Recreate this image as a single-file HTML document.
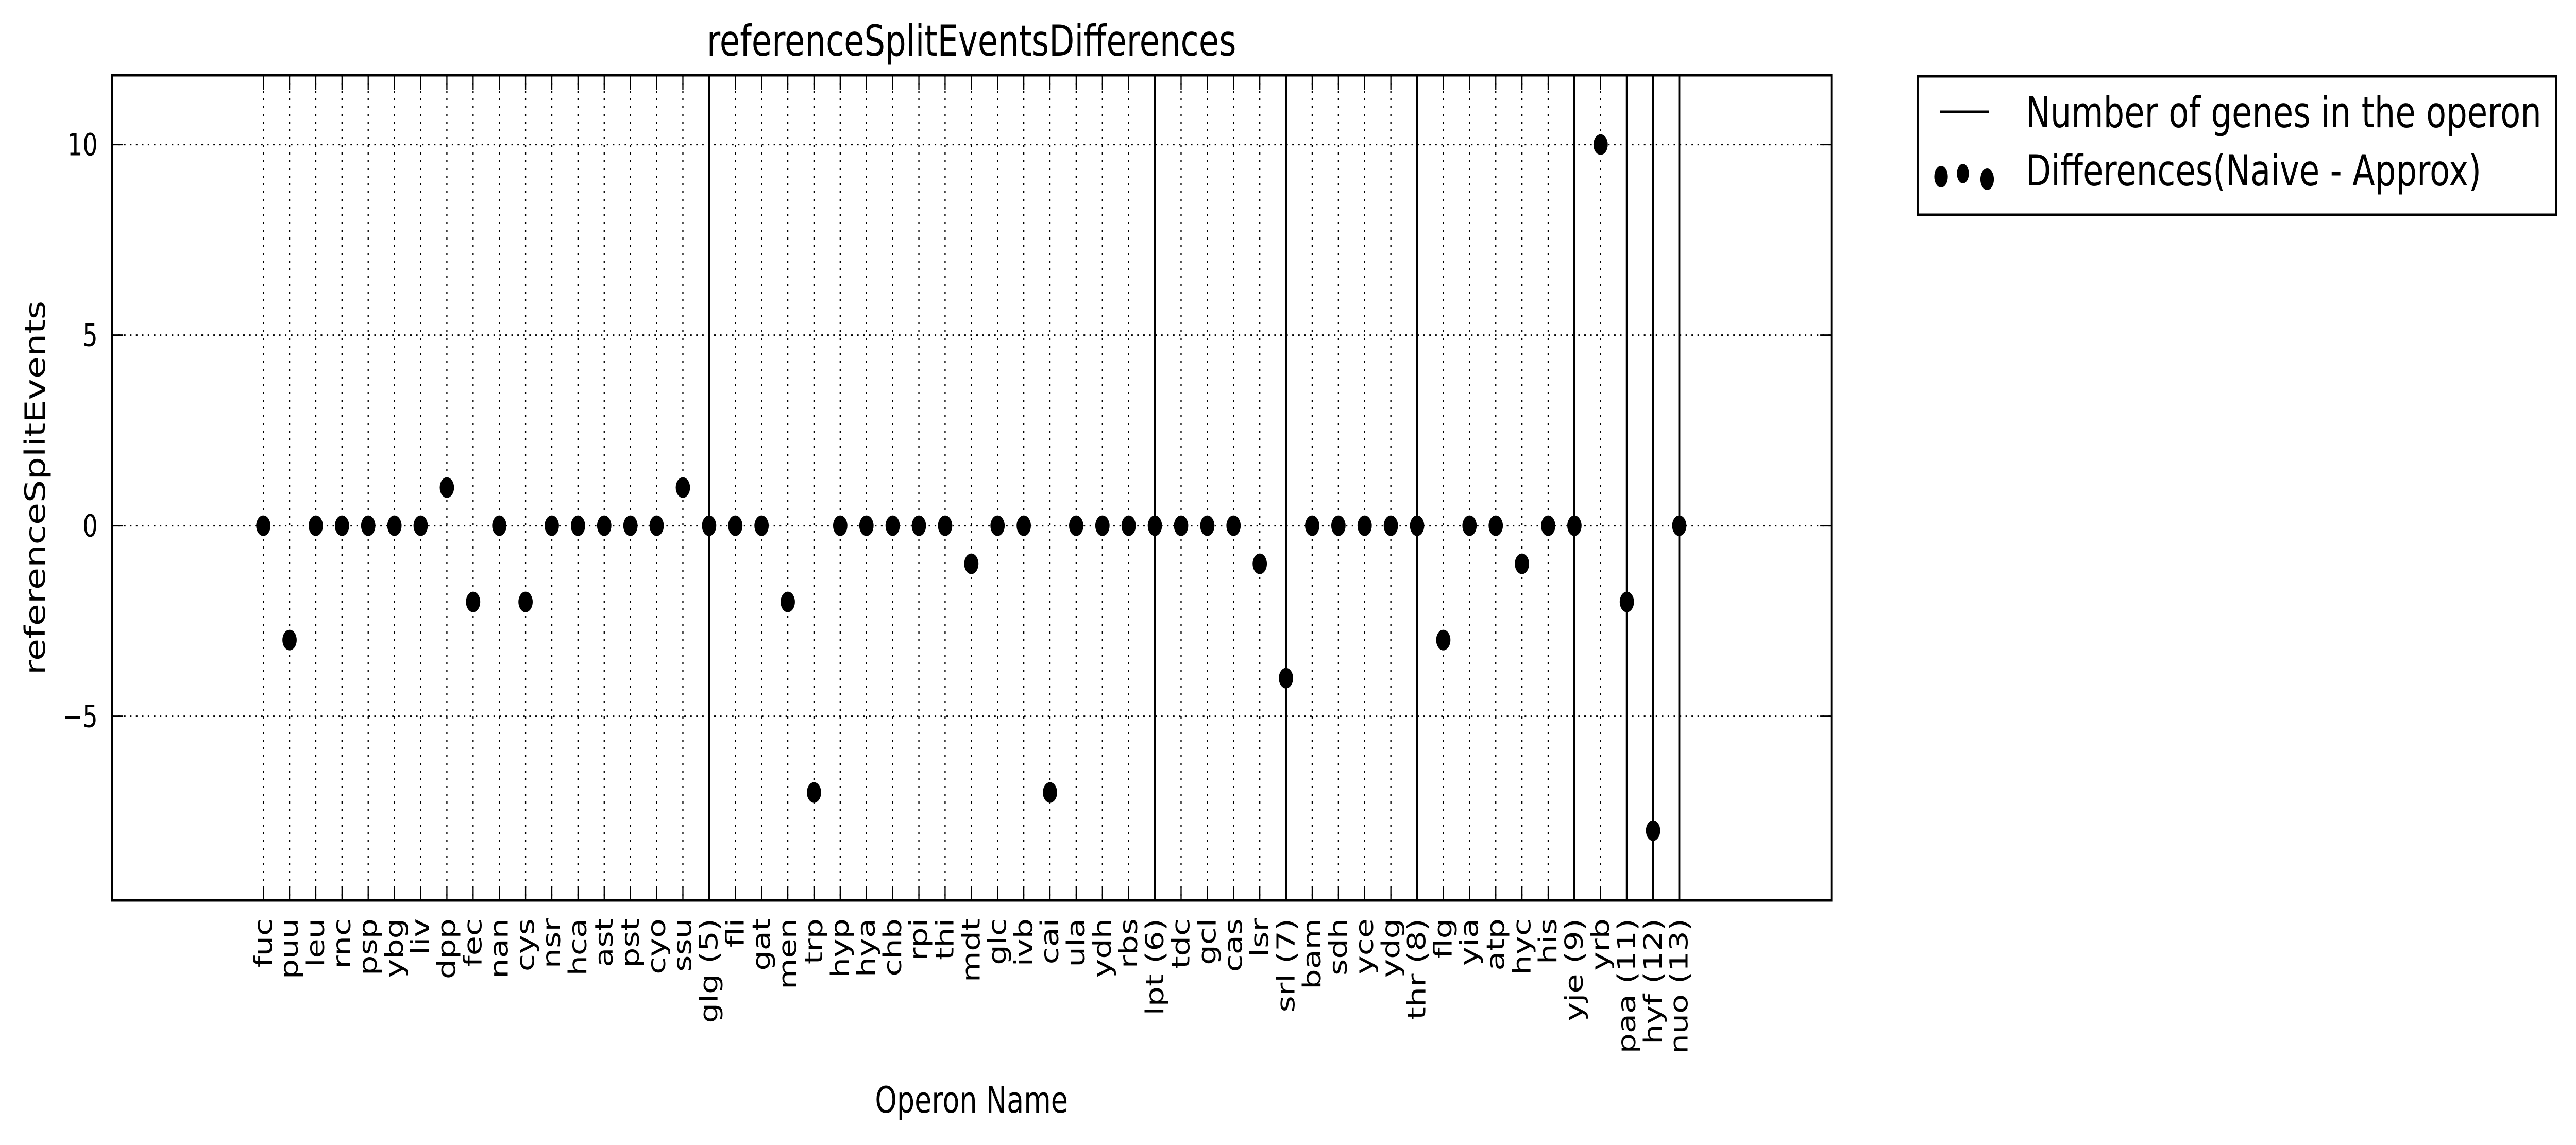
<!DOCTYPE html>
<html><head><meta charset="utf-8"><style>
html,body{margin:0;padding:0;background:#fff;width:100%;height:100%;overflow:hidden;}
svg{display:block;width:100vw;height:100vh;font-family:"DejaVu Sans","Liberation Sans",sans-serif;}
</style></head><body>
<svg id="chart" viewBox="0 0 6483 2223" preserveAspectRatio="none" xmlns="http://www.w3.org/2000/svg">
<rect x="0" y="0" width="6483" height="2223" fill="#fff"/>
<g id="grid"></g>
<g id="vlines"></g>
<g id="points"></g>
<g id="ticks"></g>
<rect x="282" y="146" width="4327" height="1602" fill="none" stroke="#000" stroke-width="5"/>
<g id="xlabels" font-size="62"></g>
<g id="ylabels" font-size="60"></g>
<text x="2445" y="108" font-size="83" text-anchor="middle">referenceSplitEventsDifferences</text>
<text x="2445" y="2160" font-size="70" text-anchor="middle">Operon Name</text>
<text transform="translate(113,947) rotate(-90)" font-size="70" text-anchor="middle">referenceSplitEvents</text>
<g>
<rect x="4826" y="148" width="1607" height="269" fill="#fff" stroke="#000" stroke-width="5"/>
<line x1="4882" y1="217" x2="5005" y2="217" stroke="#000" stroke-width="5"/>
<text x="5098" y="247" font-size="83">Number of genes in the operon</text>
<ellipse cx="4885" cy="343" rx="17" ry="21" fill="#000"/>
<ellipse cx="4940" cy="337" rx="15" ry="19" fill="#000"/>
<ellipse cx="5001" cy="348" rx="17" ry="21" fill="#000"/>
<text x="5098" y="360" font-size="83">Differences(Naive - Approx)</text>
</g>
</svg>
<script>
const categories = ["fuc","puu","leu","rnc","psp","ybg","liv","dpp","fec","nan","cys","nsr","hca","ast","pst","cyo","ssu","glg (5)","fli","gat","men","trp","hyp","hya","chb","rpi","thi","mdt","glc","ivb","cai","ula","ydh","rbs","lpt (6)","tdc","gcl","cas","lsr","srl (7)","bam","sdh","yce","ydg","thr (8)","flg","yia","atp","hyc","his","yje (9)","yrb","paa (11)","hyf (12)","nuo (13)"];
const differences = [0,-3,0,0,0,0,0,1,-2,0,-2,0,0,0,0,0,1,0,0,0,-2,-7,0,0,0,0,0,-1,0,0,-7,0,0,0,0,0,0,0,-1,-4,0,0,0,0,0,-3,0,0,-1,0,0,10,-2,-8,0];
const operonBoundaries = ["glg (5)","lpt (6)","srl (7)","thr (8)","yje (9)","paa (11)","hyf (12)","nuo (13)"];
const yTicks = [10,5,0,-5];
const yTickLabels = ["10","5","0","\u22125"];

const NS="http://www.w3.org/2000/svg";
const L=282,R=4609,T=146,B=1748;
const xMin=-5.77, xMax=59.8, yMin=-9.83, yMax=11.82;
function xs(i){return L+(i-xMin)/(xMax-xMin)*(R-L);}
function ys(v){return B-(v-yMin)/(yMax-yMin)*(B-T);}
function mk(tag,attrs,parent){const e=document.createElementNS(NS,tag);for(const k in attrs)e.setAttribute(k,attrs[k]);parent.appendChild(e);return e;}
const grid=document.getElementById('grid'),vl=document.getElementById('vlines'),pts=document.getElementById('points'),tk=document.getElementById('ticks'),xl=document.getElementById('xlabels'),yl=document.getElementById('ylabels');

yTicks.forEach((v,i)=>{
  const y=ys(v);
  const g=mk('line',{x1:L,x2:R,y1:y,y2:y,stroke:'#000','stroke-width':3,'stroke-dasharray':'4 11'},grid);
  
  
  const t1=mk('line',{x1:L,x2:L+28,y1:y,y2:y,stroke:'#000','stroke-width':3},tk);
  
  
  const t2=mk('line',{x1:R-28,x2:R,y1:y,y2:y,stroke:'#000','stroke-width':3},tk);
  
  
  const tx=mk('text',{x:246,y:y+21,'text-anchor':'end'},yl);
  tx.textContent=yTickLabels[i];
  
  
});

categories.forEach((c,i)=>{
  const x=xs(i);
  const g=mk('line',{x1:x,x2:x,y1:T,y2:B,stroke:'#000','stroke-width':3,'stroke-dasharray':'4 11'},grid);
  
  
  const t1=mk('line',{x1:x,x2:x,y1:B-28,y2:B,stroke:'#000','stroke-width':3},tk);
  
  
  const t2=mk('line',{x1:x,x2:x,y1:T,y2:T+28,stroke:'#000','stroke-width':3},tk);
  
  
  const tx=mk('text',{transform:`translate(${x+21},1783) rotate(-90)`,'text-anchor':'end'},xl);
  tx.textContent=c;
  
  
  if(operonBoundaries.includes(c)){
    const l=mk('line',{x1:x,x2:x,y1:T,y2:B,stroke:'#000','stroke-width':5},vl);
    
    
  }
});

differences.forEach((v,i)=>{
  const e=mk('ellipse',{cx:xs(i),cy:ys(v),rx:18,ry:20,fill:'#000'},pts);
  
  
});
</script>
</body></html>
